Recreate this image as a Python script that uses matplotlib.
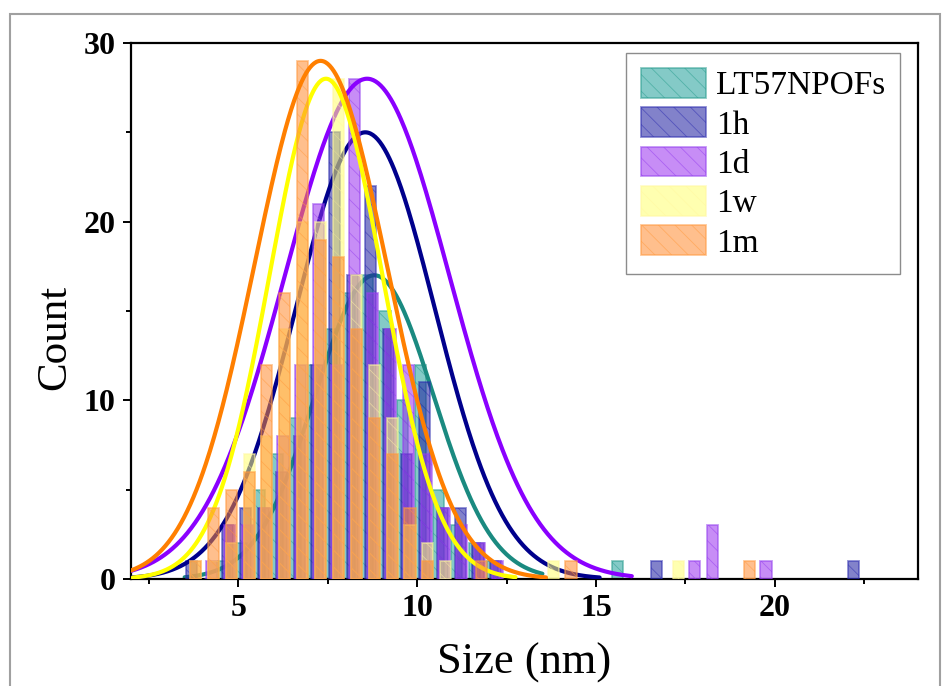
import numpy as np
import matplotlib
matplotlib.use("Agg")
import matplotlib.pyplot as plt
from matplotlib.patches import Rectangle
from matplotlib.ticker import MultipleLocator

# ---------------- data ----------------
series_names = ["LT57NPOFs", "1h", "1d", "1w", "1m"]

teal_centers = [4.6, 5.1, 5.6, 6.1, 6.6, 7.1, 7.6, 8.1, 8.6, 9.1, 9.6, 10.1, 10.6, 11.1, 11.6, 12.1, 15.6]
teal_counts = [1, 2, 5, 7, 9, 12, 14, 16, 17, 15, 10, 12, 5, 3, 2, 1, 1]

navy_centers = [3.7, 4.2, 4.7, 5.2, 5.7, 6.2, 6.7, 7.2, 7.7, 8.2, 8.7, 9.2, 9.7, 10.2, 10.7, 11.2, 11.7, 12.2, 16.7, 22.2]
navy_counts = [1, 0, 3, 4, 4, 6, 8, 12, 25, 17, 22, 14, 7, 11, 4, 4, 2, 1, 1, 1]

purple_centers = [4.25, 4.75, 5.25, 5.75, 6.25, 6.75, 7.25, 7.75, 8.25, 8.75, 9.25, 9.75, 10.25, 10.75, 11.25, 11.75, 12.25, 17.75, 18.25, 19.75]
purple_counts = [1, 3, 3, 4, 8, 12, 21, 12, 28, 16, 14, 12, 7, 4, 3, 2, 1, 1, 3, 1]

yellow_centers = [3.8, 4.3, 4.8, 5.3, 5.8, 6.3, 6.8, 7.3, 7.8, 8.3, 8.8, 9.3, 9.8, 10.3, 10.8, 13.8, 17.3]
yellow_counts = [1, 1, 2, 7, 8, 14, 20, 20, 28, 17, 12, 9, 3, 2, 1, 1, 1]

orange_centers = [3.8, 4.3, 4.8, 5.3, 5.8, 6.3, 6.8, 7.3, 7.8, 8.3, 8.8, 9.3, 9.8, 10.3, 11.8, 14.3, 19.3]
orange_counts = [1, 4, 5, 6, 12, 16, 29, 19, 18, 14, 9, 7, 4, 1, 1, 1, 1]

# Gaussian fit parameters: amplitude, centre, sigma, fit range
fit_amp = [17, 25, 28, 28, 29]
fit_center = [8.8, 8.55, 8.6, 7.45, 7.3]
fit_sigma = [1.65, 1.94, 2.3, 1.58, 1.85]
fit_xmin = [3.5, 2.0, 2.0, 2.05, 2.0]
fit_xmax = [13.5, 15.1, 16.0, 12.75, 13.6]

# ---------------- styles ----------------
face_colors = ["#20a09a", "#1c1ca0", "#9a30f0", "#ffff70", "#ff8c30"]
edge_colors = ["#2a9d8f", "#2e2eb0", "#9440ee", "#fff8a0", "#ff9a40"]
line_colors = ["#1a8a80", "#00008c", "#8a00ff", "#ffff00", "#ff7f00"]

plt.rcParams['font.family'] = ['Liberation Serif', 'DejaVu Serif']
plt.rcParams['hatch.linewidth'] = 0.6

fig = plt.figure(figsize=(9.44, 6.86), dpi=100)
ax = fig.add_axes([131/944, 1-579/686, (918-131)/944, (579-43)/686])

centers_all = [teal_centers, navy_centers, purple_centers, yellow_centers, orange_centers]
counts_all = [teal_counts, navy_counts, purple_counts, yellow_counts, orange_counts]

bar_w = 0.31
for i in range(5):
    ax.bar(centers_all[i], counts_all[i], width=bar_w, color=face_colors[i],
           alpha=0.55, edgecolor=edge_colors[i], linewidth=1.3, hatch='\\\\',
           label=series_names[i], zorder=2 + i)
    xs = np.linspace(fit_xmin[i], fit_xmax[i], 400)
    ys = fit_amp[i] * np.exp(-(xs - fit_center[i])**2 / (2 * fit_sigma[i]**2))
    ax.plot(xs, ys, color=line_colors[i], lw=3.0, zorder=2 + i + 0.5,
            solid_capstyle='round')

ax.set_xlim(2, 24)
ax.set_ylim(0, 30)
ax.xaxis.set_major_locator(MultipleLocator(5))
ax.xaxis.set_minor_locator(MultipleLocator(2.5))
ax.yaxis.set_major_locator(MultipleLocator(10))
ax.yaxis.set_minor_locator(MultipleLocator(5))
ax.tick_params(which='major', direction='out', length=6, width=1.4,
               labelsize=23, pad=5)
ax.tick_params(which='minor', direction='out', length=3.5, width=1.4)
ax.tick_params(top=False, right=False)
for lab in ax.get_xticklabels() + ax.get_yticklabels():
    lab.set_fontweight('bold')
for s in ax.spines.values():
    s.set_linewidth(1.6)

ax.set_xlabel("Size (nm)", fontsize=32)
ax.set_ylabel("Count", fontsize=31)
ax.xaxis.set_label_coords(0.5, -0.118)
ax.yaxis.set_label_coords(-0.072, 0.45)

leg = ax.legend(loc='upper right', bbox_to_anchor=((900-131)/787, (579-53)/536),
                borderaxespad=0, fontsize=24, frameon=True, fancybox=False,
                edgecolor='#707070', handlelength=1.95, handleheight=1.0,
                handletextpad=0.3, labelspacing=0.18, borderpad=0.45)
leg.get_frame().set_linewidth(1.0)
for p in leg.get_patches():
    p.set_alpha(0.55)

# outer grey frame
fig.add_artist(Rectangle((10/944, -0.02), 0.985, 1 - 14/686 + 0.02,
                         transform=fig.transFigure, fill=False,
                         edgecolor='#a0a0a0', linewidth=1.5))

fig.savefig("out.png", dpi=100)
